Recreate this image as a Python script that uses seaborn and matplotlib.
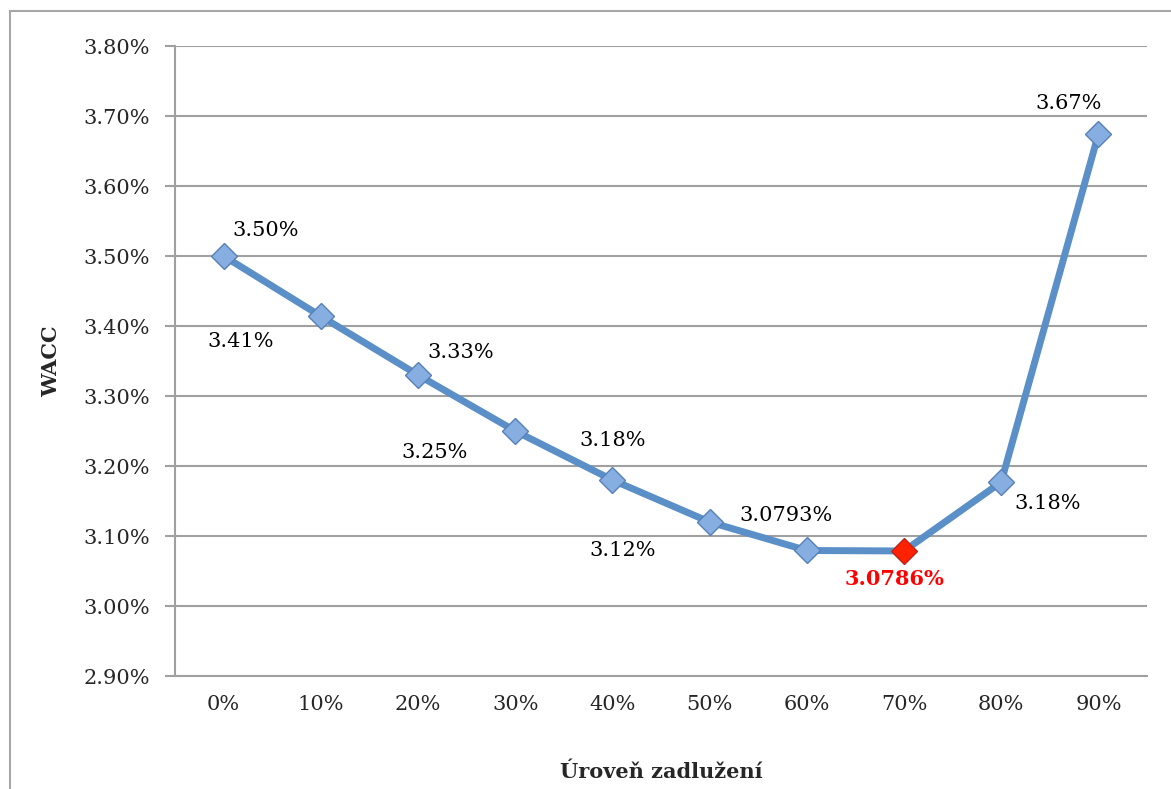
import matplotlib
matplotlib.use("Agg")
import matplotlib.pyplot as plt
import seaborn as sns
import pandas as pd
import numpy as np
from matplotlib.patches import Rectangle
from matplotlib.ticker import FixedLocator

categories = ["0%", "10%", "20%", "30%", "40%", "50%", "60%", "70%", "80%", "90%"]
wacc = [3.50, 3.414, 3.33, 3.25, 3.18, 3.12, 3.0793, 3.0786, 3.177, 3.674]
labels = ["3.50%", "3.41%", "3.33%", "3.25%", "3.18%", "3.12%", "3.0793%", "3.0786%", "3.18%", "3.67%"]
y_ticks = [2.90, 3.00, 3.10, 3.20, 3.30, 3.40, 3.50, 3.60, 3.70, 3.80]
min_index = 7

sns.set_theme(style="white")
plt.rcParams['font.family'] = ['DejaVu Serif']

df = pd.DataFrame({"pos": np.arange(len(categories)), "wacc": wacc, "label": labels})

fig = plt.figure(figsize=(11.71, 7.89), dpi=100)
ax = fig.add_axes([175/1171, 1-676/789, (1147-175)/1171, (676-46)/789])

# outer frame
fig.patches.append(Rectangle((10/1171, -0.05), 1.2, 1 - 11/789 + 0.05, transform=fig.transFigure,
                             fill=False, edgecolor="#a6a6a6", linewidth=1.5))

for yv in y_ticks:
    ax.axhline(yv, color="#a0a0a0", linewidth=1.5, zorder=0)

sns.lineplot(data=df, x="pos", y="wacc", ax=ax, color="#5a8fc8", linewidth=5,
             marker="D", markersize=13, markerfacecolor="#86aee0",
             markeredgecolor="#5580b8", markeredgewidth=1.0, zorder=3)
sub = df.iloc[[min_index]]
sns.scatterplot(data=sub, x="pos", y="wacc", ax=ax, marker="D", s=170,
                color="#ff2200", edgecolor="#d01a00", linewidth=0.8, zorder=4)

offsets = [(42, 26), (-80, -25), (43, 22), (-81, -22), (0, 39), (-87, -29),
           (-21, 35), (-9, -28), (46, -21), (-30, 31)]
for i, (dx, dy) in enumerate(offsets):
    red = (i == min_index)
    ax.annotate(labels[i], (df.pos[i], df.wacc[i]), xytext=(dx, dy), textcoords="offset pixels",
                ha="center", va="center", fontsize=15,
                color="#ff0000" if red else "#000000",
                fontweight="bold" if red else "normal", zorder=5)

ax.set_xlim(-0.5, len(categories) - 0.5)
ax.set_ylim(2.90, 3.80)
ax.set_yticks(y_ticks)
ax.set_yticklabels([f"{v:.2f}%" for v in y_ticks], fontsize=15)
ax.set_xticks(df.pos)
ax.set_xticklabels(categories, fontsize=15)
ax.xaxis.set_minor_locator(FixedLocator(np.arange(-0.5, len(categories), 1.0)))
ax.tick_params(axis="x", which="major", length=0, pad=14)
ax.tick_params(axis="x", which="minor", length=8, width=1.5, color="#a0a0a0", direction="out")
ax.tick_params(axis="y", length=7, width=1.5, color="#a0a0a0", direction="out", pad=11, left=True)

for s in ["top", "right"]:
    ax.spines[s].set_visible(False)
for s in ["left", "bottom"]:
    ax.spines[s].set_color("#a0a0a0")
    ax.spines[s].set_linewidth(1.5)

ax.set_xlabel("Úroveň zadlužení", fontsize=15, fontweight="bold", labelpad=34)
ax.set_ylabel("WACC", fontsize=15, fontweight="bold", labelpad=16)

fig.savefig("out.png", dpi=100)
